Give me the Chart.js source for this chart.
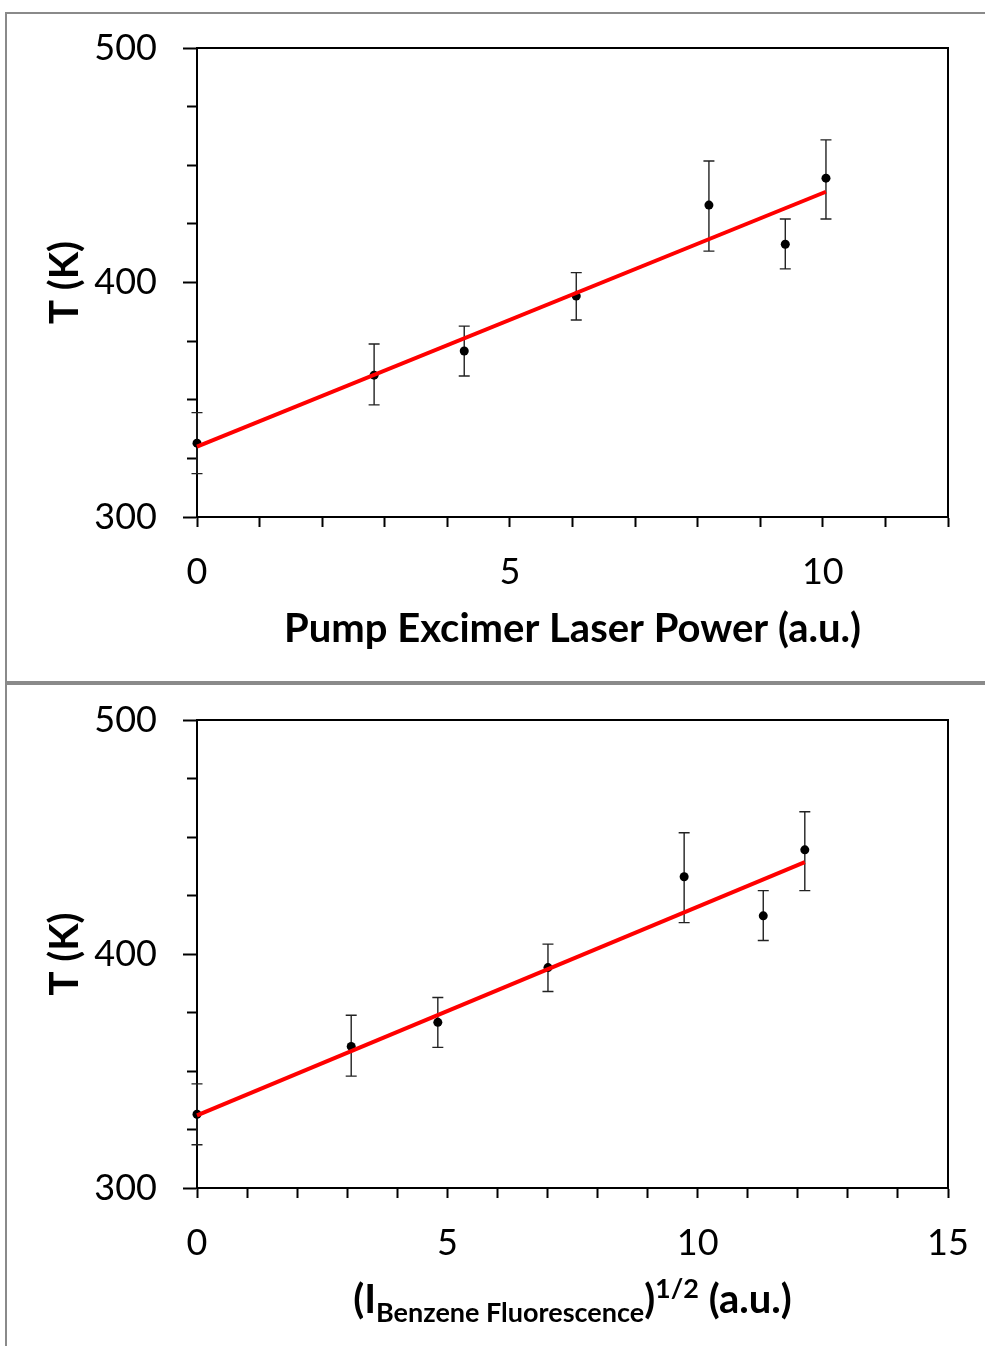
<!DOCTYPE html>
<html lang="en">
<head>
<meta charset="UTF-8">
<title>Temperature vs pump power</title>
<script src="https://cdn.jsdelivr.net/npm/chart.js@4.4.0/dist/chart.umd.min.js"></script>
<style>
  body { margin: 0; background: #fff; }
  #page { position: relative; width: 985px; height: 1346px; overflow: hidden; }
  .frame { position: absolute; left: 5px; top: 12px; right: 0; bottom: 0;
           border-top: 2px solid #8a8a8a; border-left: 2px solid #8a8a8a; }
  .sep { position: absolute; left: 5px; right: 0; top: 681px; height: 4px; background: #8a8a8a; }
  canvas { position: absolute; left: 0; }
</style>
</head>
<body>
<div id="page">
  <div class="frame"></div>
  <div class="sep"></div>
  <canvas id="chartTop" width="985" height="680" style="top:0"></canvas>
  <canvas id="chartBottom" width="985" height="661" style="top:685px"></canvas>
</div>
<script>
// measured temperatures (K) with asymmetric error bars
var temps    = [331.5, 360.5, 370.8, 394.2, 433.0, 416.3, 444.5];
var errUp    = [13.0, 13.3, 10.6, 10.0, 18.8, 10.8, 16.3];
var errDown  = [13.0, 12.7, 10.7, 10.2, 19.6, 10.5, 17.4];

// x values for each panel
var laserPower = [0, 2.83, 4.27, 6.06, 8.18, 9.40, 10.05];
var sqrtFluor  = [0, 3.08, 4.81, 7.01, 9.73, 11.31, 12.14];

// linear fit end points
var fitTopX = [0, 10.05],    fitTopY = [330.0, 438.7];
var fitBottomX = [0, 12.14], fitBottomY = [331.0, 439.3];

// tick labels
var yTicks = [300, 400, 500];
var xTicksTop = [0, 5, 10];
var xTicksBottom = [0, 5, 10, 15];

var FONT = 'Lato';

function toPoints(xs, ys) {
  return xs.map(function(x, i) { return { x: x, y: ys[i] }; });
}

var errorBars = {
  id: 'errorBars',
  beforeDatasetsDraw: function(chart) {
    var ds = chart.data.datasets[0];
    var xs = chart.scales.x, ys = chart.scales.y;
    var ctx = chart.ctx;
    ctx.save();
    ctx.strokeStyle = '#222';
    ctx.lineWidth = 1.4;
    ds.data.forEach(function(p, i) {
      var px = xs.getPixelForValue(p.x);
      var top = ys.getPixelForValue(p.y + ds.errUp[i]);
      var bot = ys.getPixelForValue(p.y - ds.errDown[i]);
      ctx.beginPath();
      ctx.moveTo(px, top); ctx.lineTo(px, bot);
      ctx.moveTo(px - 5.5, top); ctx.lineTo(px + 5.5, top);
      ctx.moveTo(px - 5.5, bot); ctx.lineTo(px + 5.5, bot);
      ctx.stroke();
    });
    ctx.restore();
  }
};

var plotBox = {
  id: 'plotBox',
  beforeDatasetsDraw: function(chart) {
    var a = chart.chartArea, ctx = chart.ctx;
    ctx.save();
    ctx.strokeStyle = '#000';
    ctx.lineWidth = 2;
    ctx.beginPath();
    ctx.moveTo(a.left, a.top);
    ctx.lineTo(a.right, a.top);
    ctx.lineTo(a.right, a.bottom);
    ctx.stroke();
    ctx.restore();
  }
};

// x title with subscript and superscript for the lower panel
var fluorTitle = {
  id: 'fluorTitle',
  afterDraw: function(chart) {
    var ctx = chart.ctx;
    var parts = [
      { t: '(I', f: 'bold 40px ' + FONT, dy: 0 },
      { t: 'Benzene Fluorescence', f: 'bold 27px ' + FONT, dy: 9 },
      { t: ')', f: 'bold 40px ' + FONT, dy: 0 },
      { t: '1/2', f: 'bold 27px ' + FONT, dy: -15 },
      { t: ' (a.u.)', f: 'bold 40px ' + FONT, dy: 0 }
    ];
    ctx.save();
    var total = 0;
    parts.forEach(function(p) { ctx.font = p.f; p.w = ctx.measureText(p.t).width; total += p.w; });
    var a = chart.chartArea;
    var x = (a.left + a.right) / 2 - total / 2;
    var base = 628;
    ctx.fillStyle = '#000';
    ctx.textBaseline = 'alphabetic';
    ctx.textAlign = 'left';
    parts.forEach(function(p) {
      ctx.font = p.f;
      ctx.fillText(p.t, x, base + p.dy);
      x += p.w;
    });
    ctx.restore();
  }
};

function makeOptions(xMax, xLabels, xTitle, padTop, xHeight) {
  return {
    responsive: false,
    animation: false,
    layout: { padding: { top: padTop, right: 37, left: 0, bottom: 0 } },
    plugins: { legend: { display: false }, tooltip: { enabled: false } },
    scales: {
      x: {
        type: 'linear', min: 0, max: xMax,
        afterFit: function(s) { s.height = xHeight; s.paddingLeft = 0; s.paddingRight = 0; },
        border: { color: '#000', width: 2 },
        grid: { drawOnChartArea: false, tickLength: 10, tickColor: '#000', tickWidth: 2 },
        ticks: {
          stepSize: 1, autoSkip: false, maxRotation: 0, padding: 24,
          color: '#000', font: { family: FONT, size: 36 },
          callback: function(v) { return xLabels.indexOf(v) >= 0 ? v : ''; }
        },
        title: {
          display: !!xTitle, text: xTitle, color: '#000',
          font: { family: FONT, size: 40, weight: 'bold' },
          padding: { top: 0, bottom: 27 }
        }
      },
      y: {
        min: 300, max: 500,
        afterFit: function(s) { s.width = 197; s.paddingTop = 0; s.paddingBottom = 0; },
        border: { color: '#000', width: 2 },
        grid: {
          drawOnChartArea: false, tickLength: 14, tickColor: '#000', tickWidth: 2,
          tickBorderDash: function(c) { return c.tick && c.tick.value % 100 === 0 ? [] : [10, 4]; },
          tickBorderDashOffset: function(c) { return c.tick && c.tick.value % 100 === 0 ? 0 : 10; }
        },
        ticks: {
          stepSize: 25, padding: 26, color: '#000', font: { family: FONT, size: 36 },
          callback: function(v) { return yTicks.indexOf(v) >= 0 ? v : ''; }
        },
        title: {
          display: true, text: 'T (K)', color: '#000',
          font: { family: FONT, size: 40, weight: 'bold' },
          padding: { top: 41, bottom: 0 }
        }
      }
    }
  };
}

function makeData(xs, fitX, fitY) {
  return {
    datasets: [{
      data: toPoints(xs, temps),
      errUp: errUp, errDown: errDown,
      backgroundColor: '#000', borderWidth: 0,
      pointRadius: 4.5, showLine: false, clip: false, order: 1
    }, {
      data: toPoints(fitX, fitY),
      borderColor: '#ff0000', borderWidth: 4,
      pointRadius: 0, showLine: true, clip: false, order: 0
    }]
  };
}

new Chart(document.getElementById('chartTop'), {
  type: 'scatter',
  data: makeData(laserPower, fitTopX, fitTopY),
  options: makeOptions(12, xTicksTop, 'Pump Excimer Laser Power (a.u.)', 48, 163),
  plugins: [plotBox, errorBars]
});

new Chart(document.getElementById('chartBottom'), {
  type: 'scatter',
  data: makeData(sqrtFluor, fitBottomX, fitBottomY),
  options: makeOptions(15, xTicksBottom, '', 35, 158),
  plugins: [plotBox, errorBars, fluorTitle]
});
</script>
</body>
</html>
